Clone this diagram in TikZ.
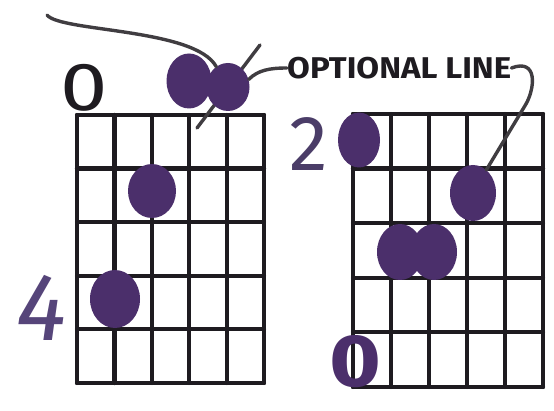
\documentclass[tikz,border=0pt]{standalone}
\usepackage{fontspec}
\setmainfont{Fira Sans}
\usetikzlibrary{shapes.geometric}
\definecolor{ink}{HTML}{1E1B20}
\definecolor{dotink}{HTML}{4B2F6B}
\definecolor{numink}{HTML}{56457A}
\tikzset{
  fretline/.style={ink, line width=4.2pt, line cap=round},
  fretdot/.style={ellipse, fill=dotink, inner sep=0pt},
  pointer/.style={draw=ink!85, line width=3.4pt, line cap=round},
  fretnum/.style={inner sep=0pt},
}

\begin{document}
\begin{tikzpicture}[x=1pt, y=-1pt]
  \useasboundingbox[fill=white] (0,0) rectangle (554,411);
  % left grid
  \foreach \i in {0,...,5} {
    \draw[fretline] (77+\i*37.4, 115) -- (77+\i*37.4, 383);
    \draw[fretline] (77, 115+\i*53.6) -- (264, 115+\i*53.6);
  }
  % right grid
  \foreach \i in {0,...,5} {
    \draw[fretline] (353+\i*38, 114) -- (353+\i*38, 387);
    \draw[fretline] (353, 114+\i*54.6) -- (543, 114+\i*54.6);
  }
  \coordinate (s1) at (260,45);
  \coordinate (s2) at (197,128);
  \draw[pointer] (s1) -- (s2);
  \node[fretdot, minimum width=45pt, minimum height=55pt] (dA) at (189,81) {};
  \node[fretdot, minimum width=43pt, minimum height=48pt] (dB) at (228,87) {};
  \node[fretdot, minimum width=48pt, minimum height=54pt] (dL1) at (152,191) {};
  \node[fretdot, minimum width=50pt, minimum height=58pt] (dL2) at (115,299) {};
  \node[fretdot, minimum width=42pt, minimum height=55pt] (dR1) at (359,140) {};
  \node[fretdot, minimum width=46pt, minimum height=56pt] (dR2) at (473,193) {};
  \node[fretdot, minimum width=46pt, minimum height=56pt] (dR3) at (400,252) {};
  \node[fretdot, minimum width=46pt, minimum height=56pt] (dR4) at (434,252) {};
  \node[fretnum, font=\mdseries\fontsize{68}{68}\selectfont, ink] (n0) at (84,88) {\scalebox{1.25}[1]{0}};
  \node[fretnum, font=\itshape\fontsize{96}{96}\selectfont, numink] (n4) at (42,308) {4};
  \node[fretnum, font=\fontsize{78}{78}\selectfont, numink!80!ink] (n2) at (309,144) {2};
  \node[fretnum, font=\bfseries\fontsize{74}{74}\selectfont, dotink] (n0b) at (355,362) {\scalebox{1.2}[1]{0}};
  \node[fretnum, anchor=west, font=\bfseries\fontsize{30}{30}\selectfont, ink] (opt) at (287,68) {\scalebox{1.1}[1]{OPTIONAL LINE}};
  \coordinate (tail) at (47,15);
  \coordinate (bend) at (526,104);
  \draw[pointer] (tail) .. controls (60,32) and (195,28) .. (dB.120);
  \draw[pointer] (opt.west) .. controls (270,68) and (258,70) .. (dB.20);
  \draw[pointer] (opt.east) .. controls (538,58) and (535,88) .. (bend) -- (dR2.60);
\end{tikzpicture}
\end{document}
